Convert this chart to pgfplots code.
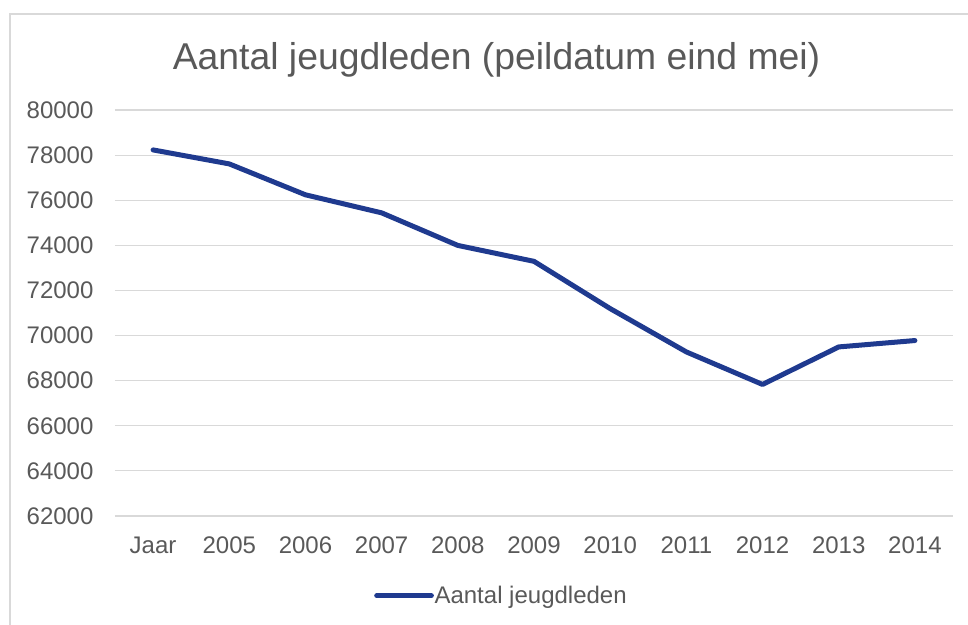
\documentclass[border=0pt]{standalone}
\usepackage{pgfplots}
\pgfplotsset{compat=1.18}
\usepackage{fontspec}
\setmainfont{Liberation Sans}
\definecolor{txt}{HTML}{595959}
\definecolor{gridc}{HTML}{D9D9D9}
\definecolor{linec}{HTML}{1F3A8F}
\begin{document}
\begin{tikzpicture}
\begin{scope}[x=0.75pt,y=-0.75pt,yshift=468.75pt]
\useasboundingbox (0,0) rectangle (968,625);
\draw[gridc, line width=0.9pt] (10,640) -- (10,14) -- (990,14);
\end{scope}
\begin{axis}[
  at={(86.25pt,81.75pt)}, anchor=south west,
  scale only axis, width=628.5pt, height=304.5pt,
  xmin=-0.5, xmax=10.5, ymin=62000, ymax=80000,
  xtick={0,...,10},
  xticklabels={Jaar,2005,2006,2007,2008,2009,2010,2011,2012,2013,2014},
  ytick={62000,64000,...,80000},
  scaled y ticks=false,
  axis line style={draw=none},
  major tick length=0pt,
  ymajorgrids, grid style={gridc, line width=0.9pt},
  /pgf/number format/assume math mode=true,
  /pgf/number format/1000 sep={},
  tick label style={font=\fontsize{18}{20}\selectfont, text=txt},
  yticklabel style={anchor=east, inner sep=0pt, xshift=-16pt},
  xticklabel style={anchor=base, inner sep=0pt, yshift=-28pt},
  title={Aantal jeugdleden (peildatum eind mei)},
  title style={at={(axis description cs:0.4553,1.08)}, anchor=base, inner sep=0pt,
    font=\fontsize{28}{32}\selectfont, text=txt},
  legend style={at={(axis description cs:0.309,-0.1963)}, anchor=west, draw=none, fill=none,
    inner sep=0pt, font=\fontsize{18}{20}\selectfont, text=txt,
    nodes={inner sep=0pt}},
  legend image code/.code={\draw[#1] (0pt,0pt) -- (41pt,0pt);},
  legend cell align=left,
]
\addplot[linec, line width=3.75pt, line join=round, line cap=round] coordinates {
(0,78230) (1,77610) (2,76240) (3,75440) (4,73996) (5,73290)
(6,71195) (7,69274) (8,67832) (9,69496) (10,69779)};
\addlegendentry{\hspace{0.5pt}Aantal jeugdleden}
\end{axis}
\end{tikzpicture}
\end{document}
